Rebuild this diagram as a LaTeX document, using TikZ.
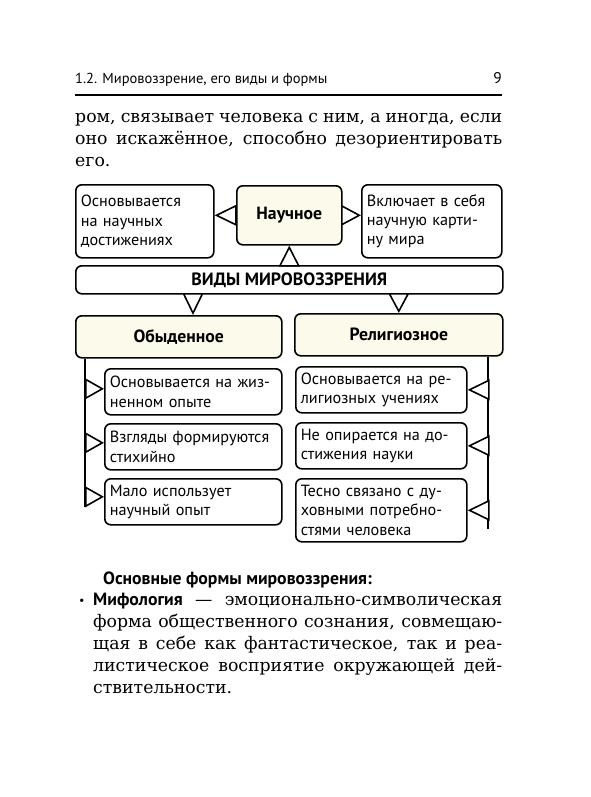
\documentclass[tikz,border=0pt]{standalone}
\usepackage{fontspec}
\setmainfont{DejaVu Serif}
\newfontfamily\dgfont{PT Sans}
\usepackage{xcolor}
\usepackage{tikz}
\usetikzlibrary{arrows.meta,positioning}
\definecolor{cream}{RGB}{252,250,235}
\tikzset{
	box/.style={draw, rounded corners=6pt, line width=1.6pt, anchor=north west,
		align=left, inner xsep=5pt, inner ysep=2pt,
		font=\dgfont\fontsize{16.2}{19.3}\selectfont},
	bold/.style={align=center, font=\dgfont\bfseries\fontsize{17.7}{20}\selectfont},
	head/.style={box, bold, fill=cream},
	tri/.style={-{Triangle[fill=white, length=#1, width=21pt]}},
	tri/.default=20pt,
	txt/.style={anchor=base west, inner sep=0pt, font=\fontsize{17.3}{22}\selectfont},
	sf/.style={anchor=base west, inner sep=0pt, font=\dgfont\fontsize{14.5}{16}\selectfont}
}
\newcommand{\jl}[2]{\makebox[#1pt][s]{#2}}

\begin{document}
\begin{tikzpicture}[x=1pt, y=-1pt]
		\useasboundingbox[fill=white] (0,0) rectangle (591,797);
		% page head
		\node[sf] (hd) at (75,84) {1.2. Мировоззрение, его виды и формы};
		\node[sf, anchor=base east, font=\dgfont\fontsize{15.5}{16}\selectfont] (pg) at (502,84) {9};
		\draw[line width=1.2pt] (75,95) -- (502,95);
		%
		\node[txt] (p1) at (75,122) {\jl{427}{ром, связывает человека с ним, а иногда, если}};
		\node[txt] (p2) at (75,144) {\jl{427}{оно искажённое, способно дезориентировать}};
		\node[txt] (p3) at (75,166) {его.};
		% scheme
		\node[head, minimum width=105pt, minimum height=59pt] (sci) at (236,185) {Научное};
		\node[box, text width=128pt, minimum height=73pt] (sciL) at (75,184) {Основывается\\на научных\\достижениях};
		\node[box, text width=130pt, minimum height=73pt] (sciR) at (361,184) {Включает в себя\\научную карти-\\ну мира};
		\node[box, bold, font=\dgfont\bfseries\fontsize{17.8}{20}\selectfont, minimum width=427pt, minimum height=28pt] (kinds) at (75,265) {ВИДЫ МИРОВОЗЗРЕНИЯ};
		\node[head, minimum width=206pt, minimum height=42pt] (ord) at (75,315) {Обыденное};
		\node[head, minimum width=208pt, minimum height=42pt] (rel) at (294,313) {Религиозное};
		%
		\node[box, text width=167pt, minimum height=46pt] (ord1) at (104,368) {Основывается на жиз-\\ненном опыте};
		\node[box, text width=167pt, minimum height=46pt] (ord2) at (104,423) {Взгляды формируются\\стихийно};
		\node[box, text width=167pt, minimum height=46pt] (ord3) at (104,478) {Мало использует\\научный опыт};
		\node[box, text width=161pt, minimum height=46pt] (rel1) at (295,366) {Основывается на ре-\\лигиозных учениях};
		\node[box, text width=161pt, minimum height=46pt] (rel2) at (295,422) {Не опирается на до-\\стижения науки};
		\node[box, text width=161pt, minimum height=63pt] (rel3) at (295,478) {Тесно связано с ду-\\ховными потребно-\\стями человека};
		%
		\coordinate (dL) at (193,0);
		\coordinate (spL) at (85,507);
		\coordinate (spR) at (488,529);
		\draw[line width=1.6pt] (ord.south -| spL) -- (spL);
		\draw[line width=1.6pt] (rel.south -| spR) -- (spR);
		%
		\path[line width=1.6pt]
			(sci.west) edge[tri=22pt] (sciL.east |- sci.west)
			(sci.east) edge[tri=20pt] (sciR.west |- sci.east)
			(kinds.north -| sci.south) edge[tri=21pt] (sci.south)
			(kinds.south -| dL) edge[tri=22pt] (ord.north -| dL)
			(kinds.south -| rel.north) edge[tri=20pt] (rel.north)
			([yshift=3pt]spL |- ord1.west) edge[tri=19pt] ([yshift=3pt]ord1.west)
			([yshift=4pt]spL |- ord2.west) edge[tri=19pt] ([yshift=4pt]ord2.west)
			([yshift=5pt]spL |- ord3.west) edge[tri=19pt] ([yshift=5pt]ord3.west)
			(spR |- rel1.east) edge[tri=22pt] (rel1.east)
			(spR |- rel2.east) edge[tri=22pt] (rel2.east)
			(spR |- rel3.east) edge[tri=22pt] (rel3.east);
		% forms
		\node[sf, font=\dgfont\bfseries\fontsize{17.7}{20}\selectfont] (fh) at (103,584) {Основные формы мировоззрения:};
		\node[sf, font=\dgfont\fontsize{12}{14}\selectfont] (bul) at (79,604) {•};
		\node[txt] (f1) at (93,605) {\jl{409}{{\dgfont\bfseries\fontsize{17.7}{20}\selectfont Мифология} — эмоционально-символическая}};
		\node[txt] (f2) at (93,627) {\jl{409}{форма общественного сознания, совмещаю-}};
		\node[txt] (f3) at (93,649) {\jl{409}{щая в себе как фантастическое, так и реа-}};
		\node[txt] (f4) at (93,671) {\jl{409}{листическое восприятие окружающей дей-}};
		\node[txt] (f5) at (93,693) {ствительности.};
	\end{tikzpicture}
\end{document}
